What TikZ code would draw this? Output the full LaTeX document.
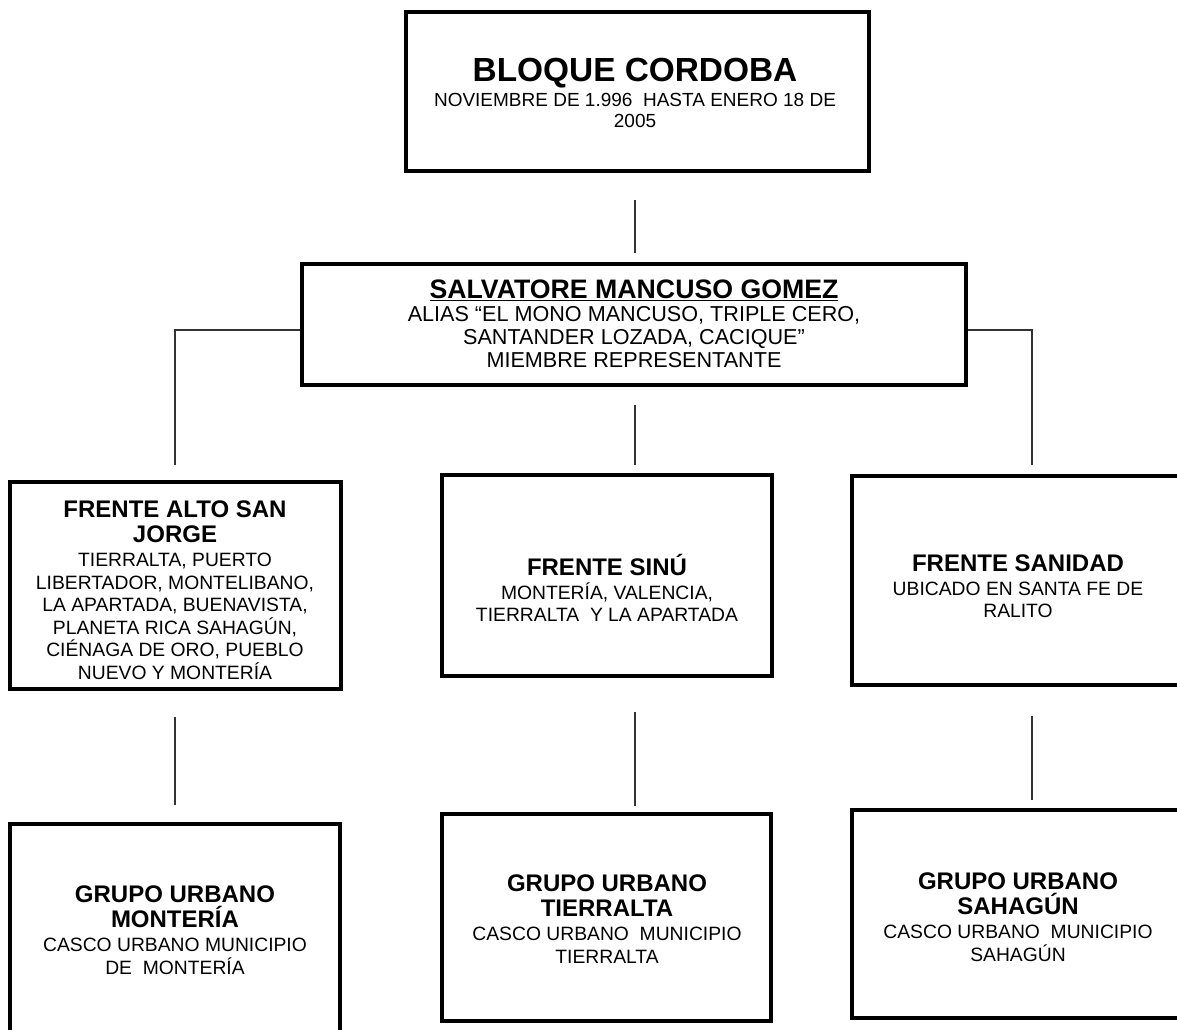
\documentclass[tikz,border=0pt]{standalone}
\usepackage{fontspec}
\setmainfont{Liberation Sans}
\newcommand\boxtitle{\fontsize{24}{27}\selectfont\bfseries}
\begin{document}
\begin{tikzpicture}[x=1pt,y=-1pt,
  box/.style={draw=black, line width=3.6pt, rectangle, inner sep=0pt},
  txt/.style={align=center, inner sep=0pt, font=\fontsize{19.3}{22.5}\selectfont},
  conn/.style={draw=black!80, line width=1.2pt}]
\useasboundingbox (0,0) rectangle (1177,1029);
% boxes
\node[box, minimum width=463pt, minimum height=159pt] (top) at (637.5,91.5) {};
\node[box, minimum width=664pt, minimum height=121pt] (manc) at (634,324.5) {};
\node[box, minimum width=331pt, minimum height=207pt] (alto) at (175.5,585.5) {};
\node[box, minimum width=330pt, minimum height=201pt] (sinu) at (607,575.5) {};
\node[box, minimum width=334pt, minimum height=209pt] (sani) at (1019,580.5) {};
\node[box, minimum width=330pt, minimum height=226pt] (gmon) at (175,937) {};
\node[box, minimum width=329pt, minimum height=207pt] (gtie) at (606.5,917.5) {};
\node[box, minimum width=334pt, minimum height=208pt] (gsah) at (1019,914) {};
% texts
\node[txt, font=\fontsize{19}{21.7}\selectfont] (topT) at (635,93)
  {{\fontsize{33.4}{38}\selectfont\bfseries BLOQUE CORDOBA}\\[3pt]
   NOVIEMBRE DE 1.996\ \ HASTA ENERO 18 DE\\ 2005};
\node[txt, font=\fontsize{21.6}{23}\selectfont] (mancT) at (634,324)
  {{\fontsize{26.7}{29}\selectfont\bfseries\underline{SALVATORE MANCUSO GOMEZ}}\\
   ALIAS “EL MONO MANCUSO, TRIPLE CERO,\\
   SANTANDER LOZADA, CACIQUE”\\
   MIEMBRE REPRESENTANTE};
\node[txt] (altoT) at (175,590)
  {{\boxtitle FRENTE ALTO SAN}\\[3pt]{\boxtitle JORGE}\\[1.5pt]
   TIERRALTA, PUERTO\\ LIBERTADOR, MONTELIBANO,\\ LA APARTADA, BUENAVISTA,\\
   PLANETA RICA SAHAGÚN,\\ CIÉNAGA DE ORO, PUEBLO\\ NUEVO Y MONTERÍA};
\node[txt] (sinuT) at (607,588)
  {{\boxtitle FRENTE SINÚ}\\[1.5pt] MONTERÍA, VALENCIA,\\ TIERRALTA\ \ Y LA APARTADA};
\node[txt] (saniT) at (1018,586)
  {{\boxtitle FRENTE SANIDAD}\\[1.5pt] UBICADO EN SANTA FE DE\\ RALITO};
\node[txt] (gmonT) at (175,930)
  {{\boxtitle GRUPO URBANO}\\[3pt]{\boxtitle MONTERÍA}\\[1.5pt]
   CASCO URBANO MUNICIPIO\\ DE\ \ MONTERÍA};
\node[txt] (gtieT) at (607,919)
  {{\boxtitle GRUPO URBANO}\\[3pt]{\boxtitle TIERRALTA}\\[1.5pt]
   CASCO URBANO\ \ MUNICIPIO\\ TIERRALTA};
\node[txt] (gsahT) at (1018,917)
  {{\boxtitle GRUPO URBANO}\\[3pt]{\boxtitle SAHAGÚN}\\[1.5pt]
   CASCO URBANO\ \ MUNICIPIO\\ SAHAGÚN};
% connector coordinates
\coordinate (a1) at (635,200);  \coordinate (a2) at (635,253);
\coordinate (lj) at (175,330);  \coordinate (rj) at (1032,330);
\coordinate (lb) at (175,465);  \coordinate (rb) at (1032,465);
\coordinate (m1) at (635,405);  \coordinate (m2) at (635,465);
\coordinate (l1) at (175,717);  \coordinate (l2) at (175,805);
\coordinate (c1) at (635,712);  \coordinate (c2) at (635,806);
\coordinate (r1) at (1032,716); \coordinate (r2) at (1032,800);
% connectors
\draw[conn] (a1) -- (a2);
\draw[conn] (manc.west |- lj) -- (lj) -- (lb);
\draw[conn] (manc.east |- rj) -- (rj) -- (rb);
\draw[conn] (m1) -- (m2);
\draw[conn] (l1) -- (l2);
\draw[conn] (c1) -- (c2);
\draw[conn] (r1) -- (r2);
\end{tikzpicture}
\end{document}
